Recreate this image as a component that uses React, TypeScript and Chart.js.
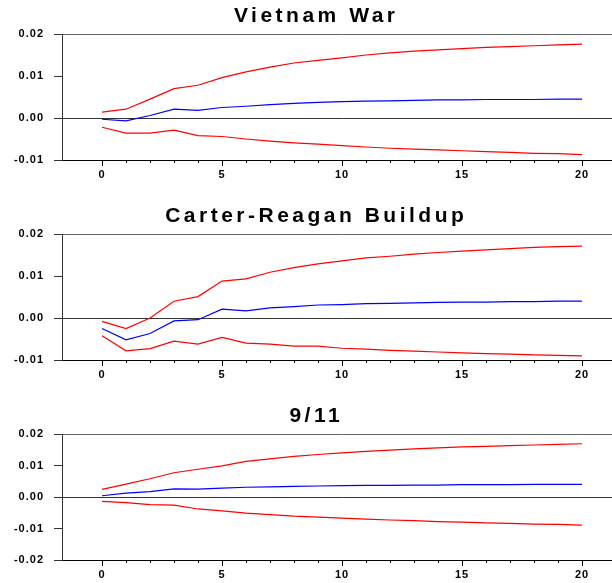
import React, { useEffect, useRef } from "react";
import { Chart, registerables } from "chart.js";

Chart.register(...registerables);

// ---------- data ----------
const HORIZON = [0, 1, 2, 3, 4, 5, 6, 7, 8, 9, 10, 11, 12, 13, 14, 15, 16, 17, 18, 19, 20];
const X_TICK_LABELS = [0, 5, 10, 15, 20];

const TITLE_VIETNAM = "Vietnam War";
const VIETNAM_UPPER = [0.0014, 0.0021, 0.0045, 0.007, 0.0078, 0.0096, 0.011, 0.0121, 0.0131, 0.0137, 0.0143, 0.015, 0.0155, 0.0159, 0.0162, 0.0165, 0.0168, 0.017, 0.0172, 0.0174, 0.0176];
const VIETNAM_IRF = [-0.0003, -0.0007, 0.0006, 0.0021, 0.0018, 0.0025, 0.0028, 0.0032, 0.0035, 0.0037, 0.0039, 0.004, 0.0041, 0.0042, 0.0043, 0.0043, 0.0044, 0.0044, 0.0044, 0.0045, 0.0045];
const VIETNAM_LOWER = [-0.0022, -0.0036, -0.0036, -0.0029, -0.0042, -0.0044, -0.005, -0.0055, -0.0059, -0.0062, -0.0066, -0.0069, -0.0072, -0.0074, -0.0076, -0.0078, -0.008, -0.0082, -0.0084, -0.0085, -0.0087];

const TITLE_CARTER = "Carter-Reagan Buildup";
const CARTER_UPPER = [-0.0008, -0.0025, 0.0, 0.004, 0.0051, 0.0088, 0.0093, 0.0109, 0.012, 0.0129, 0.0136, 0.0143, 0.0147, 0.0152, 0.0156, 0.0159, 0.0162, 0.0165, 0.0168, 0.017, 0.0171];
const CARTER_IRF = [-0.0025, -0.0052, -0.0037, -0.0007, -0.0004, 0.0021, 0.0017, 0.0024, 0.0027, 0.0031, 0.0032, 0.0034, 0.0035, 0.0036, 0.0037, 0.0038, 0.0038, 0.0039, 0.0039, 0.004, 0.004];
const CARTER_LOWER = [-0.0042, -0.0078, -0.0073, -0.0055, -0.0062, -0.0046, -0.006, -0.0062, -0.0067, -0.0067, -0.0072, -0.0074, -0.0077, -0.0079, -0.0081, -0.0083, -0.0085, -0.0086, -0.0088, -0.0089, -0.009];

const TITLE_911 = "9/11";
const S911_UPPER = [0.0024, 0.0041, 0.0058, 0.0077, 0.0088, 0.0099, 0.0113, 0.0121, 0.0129, 0.0135, 0.014, 0.0145, 0.0149, 0.0153, 0.0156, 0.0159, 0.0161, 0.0163, 0.0165, 0.0167, 0.0169];
const S911_IRF = [0.0004, 0.0012, 0.0017, 0.0026, 0.0025, 0.0028, 0.0031, 0.0032, 0.0034, 0.0035, 0.0036, 0.0037, 0.0037, 0.0038, 0.0038, 0.0039, 0.0039, 0.0039, 0.004, 0.004, 0.004];
const S911_LOWER = [-0.0014, -0.0018, -0.0024, -0.0026, -0.0038, -0.0044, -0.0051, -0.0056, -0.0061, -0.0064, -0.0067, -0.007, -0.0073, -0.0075, -0.0078, -0.008, -0.0082, -0.0084, -0.0086, -0.0087, -0.0089];

const Y_TICKS_AB = [-0.01, 0.0, 0.01, 0.02];
const Y_TICKS_C = [-0.02, -0.01, 0.0, 0.01, 0.02];

// ---------- chart ----------
const FONT_FAMILY = '"Liberation Sans", Arial, sans-serif';

const decorPlugin = {
  id: "decor",
  beforeDraw(chart: any) {
    chart.ctx.letterSpacing = "1px";
  },
  afterDraw(chart: any) {
    const ctx = chart.ctx;
    ctx.save();
    ctx.letterSpacing = "0px";
    const xs = chart.scales.x;
    const area = chart.chartArea;
    // x tick marks
    ctx.strokeStyle = "#000";
    ctx.lineWidth = 1;
    ctx.beginPath();
    HORIZON.forEach((h) => {
      const px = Math.round(xs.getPixelForValue(h)) + 0.5;
      const len = h % 5 === 0 ? 6 : 3;
      ctx.moveTo(px, area.bottom);
      ctx.lineTo(px, area.bottom + len);
    });
    ctx.stroke();
    // title
    const title = chart.options.plugins.panelTitle as string;
    const spacing = 3.5;
    ctx.font = `bold 21px ${FONT_FAMILY}`;
    ctx.letterSpacing = spacing + "px";
    ctx.fillStyle = "#000";
    ctx.textAlign = "left";
    ctx.textBaseline = "alphabetic";
    const w = ctx.measureText(title).width;
    ctx.fillText(title, 314.5 - (w - spacing) / 2, area.top - 12);
    ctx.restore();
    ctx.letterSpacing = "0px";
  },
};

type PanelProps = {
  title: string;
  upper: number[];
  irf: number[];
  lower: number[];
  yTicks: number[];
  top: number;
  height: number;
};

function Panel({ title, upper, irf, lower, yTicks, top, height }: PanelProps) {
  const ref = useRef<HTMLCanvasElement | null>(null);
  useEffect(() => {
    if (!ref.current) return;
    const yMin = Math.min(...yTicks);
    const yMax = Math.max(...yTicks);
    const mk = (arr: number[]) => HORIZON.map((h, i) => ({ x: h, y: arr[i] }));
    const chart = new Chart(ref.current, {
      type: "line",
      data: {
        datasets: [
          { data: mk(upper), borderColor: "#ff0000", borderWidth: 1.2, pointRadius: 0, tension: 0 },
          { data: mk(irf), borderColor: "#0000ff", borderWidth: 1.2, pointRadius: 0, tension: 0 },
          { data: mk(lower), borderColor: "#ff0000", borderWidth: 1.2, pointRadius: 0, tension: 0 },
        ],
      },
      options: {
        animation: false,
        responsive: false,
        events: [],
        layout: { padding: { top: 34, left: 0, right: 18, bottom: 0 } },
        plugins: {
          legend: { display: false },
          tooltip: { enabled: false },
          title: { display: false },
          // @ts-ignore
          panelTitle: title,
        },
        scales: {
          x: {
            type: "linear",
            min: -1.667,
            max: 21.667,
            afterBuildTicks: (s: any) => {
              s.ticks = X_TICK_LABELS.map((v) => ({ value: v }));
            },
            afterFit: (s: any) => {
              s.height = height - 160;
            },
            ticks: {
              autoSkip: false,
              maxRotation: 0,
              padding: 8,
              color: "#000",
              font: { family: FONT_FAMILY, size: 11, weight: "bold" },
              callback: (v: any) => String(v),
            },
            grid: { display: true, drawOnChartArea: false, drawTicks: false },
            border: { display: true, color: "#000", width: 1 },
          },
          y: {
            type: "linear",
            min: yMin,
            max: yMax,
            afterBuildTicks: (s: any) => {
              s.ticks = yTicks.map((v) => ({ value: v }));
            },
            afterFit: (s: any) => {
              s.width = 62;
            },
            ticks: {
              padding: 10,
              color: "#000",
              font: { family: FONT_FAMILY, size: 11, weight: "bold" },
              callback: (v: any) => Number(v).toFixed(2),
            },
            grid: {
              drawOnChartArea: true,
              drawTicks: true,
              tickLength: 8,
              tickColor: "#333",
              color: (c: any) => {
                const v = c.tick ? c.tick.value : null;
                if (v === 0) return "#333";
                if (v === yMax) return "#666";
                return "rgba(0,0,0,0)";
              },
              lineWidth: 1,
            },
            border: { display: true, color: "#333", width: 1 },
          },
        },
      } as any,
      plugins: [decorPlugin as any],
    });
    return () => chart.destroy();
  }, [title, upper, irf, lower, yTicks, height]);
  return (
    <canvas
      ref={ref}
      width={640}
      height={height}
      style={{ position: "absolute", left: 0, top, width: 640, height, display: "block" }}
    />
  );
}

export default function App() {
  return (
    <div
      style={{
        position: "fixed",
        left: 0,
        top: 0,
        width: 612,
        height: 583,
        overflow: "hidden",
        background: "#fff",
      }}
    >
      <Panel title={TITLE_VIETNAM} upper={VIETNAM_UPPER} irf={VIETNAM_IRF} lower={VIETNAM_LOWER} yTicks={Y_TICKS_AB} top={0} height={195} />
      <Panel title={TITLE_CARTER} upper={CARTER_UPPER} irf={CARTER_IRF} lower={CARTER_LOWER} yTicks={Y_TICKS_AB} top={200} height={195} />
      <Panel title={TITLE_911} upper={S911_UPPER} irf={S911_IRF} lower={S911_LOWER} yTicks={Y_TICKS_C} top={400} height={183} />
    </div>
  );
}
